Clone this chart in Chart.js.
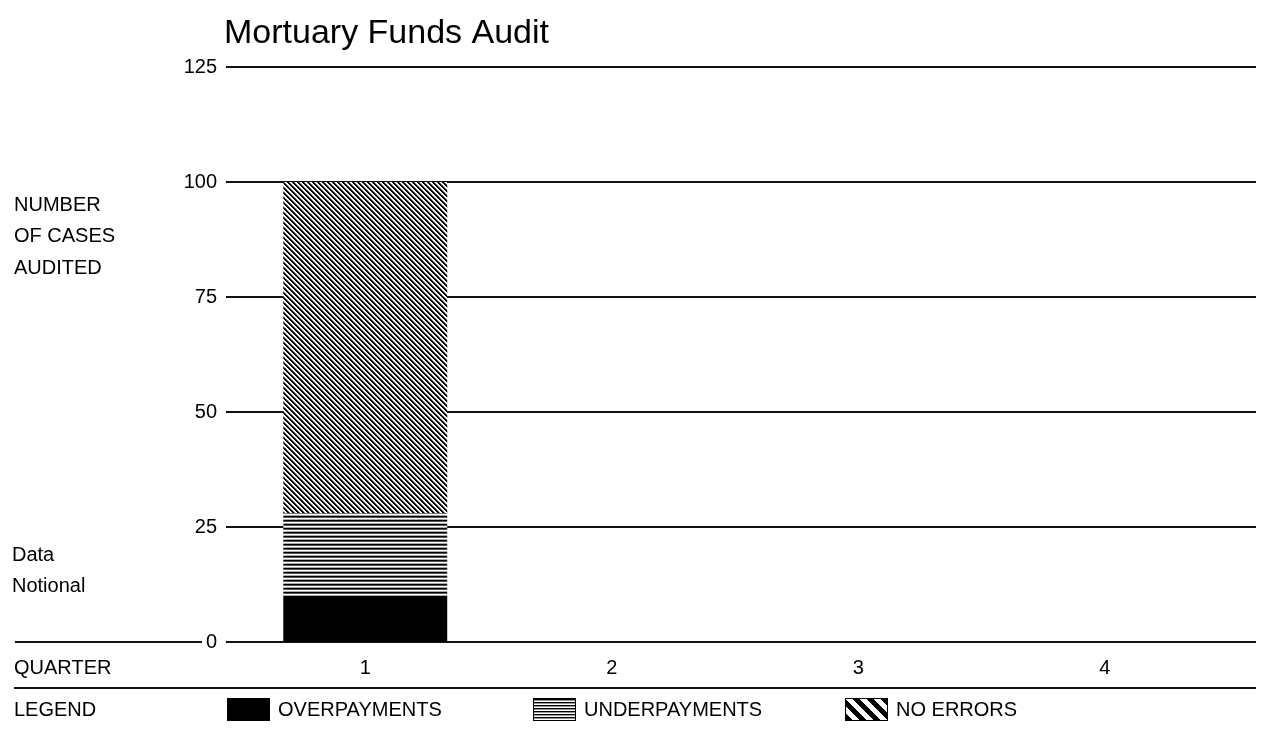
<!DOCTYPE html>
<html>
<head>
<meta charset="utf-8">
<title>Mortuary Funds Audit</title>
<script src="https://cdn.jsdelivr.net/npm/chart.js@4.4.0/dist/chart.umd.min.js"></script>
<style>
  html, body { margin: 0; padding: 0; background: #fff; }
  #chart { display: block; }
</style>
</head>
<body>
<canvas id="chart" width="1263" height="729"></canvas>
<script>
const TITLE = 'Mortuary Funds Audit';
const quarters = ['1', '2', '3', '4'];
const overpayments = [10, 0, 0, 0];
const underpayments = [18, 0, 0, 0];
const noErrors = [72, 0, 0, 0];
const seriesLabels = ['OVERPAYMENTS', 'UNDERPAYMENTS', 'NO ERRORS'];
const yAxisNote = ['NUMBER', 'OF CASES', 'AUDITED'];
const dataNote = ['Data', 'Notional'];

const FONT = '"Liberation Sans", Arial, sans-serif';
const canvas = document.getElementById('chart');
const mainCtx = canvas.getContext('2d');

// little pixel tiles for the hatch fills
const makePattern = (size, paint) => {
  const tile = document.createElement('canvas');
  tile.width = size;
  tile.height = size;
  const g = tile.getContext('2d');
  g.fillStyle = '#fff';
  g.fillRect(0, 0, size, size);
  for (let y = 0; y < size; y++) {
    for (let x = 0; x < size; x++) {
      const col = paint(x, y);
      if (col) {
        g.fillStyle = col;
        g.fillRect(x, y, 1, 1);
      }
    }
  }
  return mainCtx.createPattern(tile, 'repeat');
};

const hLines = makePattern(4, (x, y) => ['#000', '#555', null, '#aaa'][y]);
const diag = makePattern(5, (x, y) => {
  const d = ((x - y) % 5 + 5) % 5;
  return d < 2 ? '#000' : d === 2 ? '#777' : null;
});
const hLinesKey = makePattern(3, (x, y) => ['#000', '#999', null][y]);
const diagKey = makePattern(14, (x, y) => {
  const d = ((x - y) % 14 + 14) % 14;
  return d < 7 ? '#000' : null;
});

const legendKeys = [
  { fill: '#000', border: false },
  { fill: hLinesKey, border: true },
  { fill: diagKey, border: true }
];

const frame = {
  id: 'frame',
  beforeDatasetsDraw(chart) {
    const { ctx, scales: { y } } = chart;
    ctx.save();
    ctx.strokeStyle = '#111';
    ctx.lineWidth = 2;
    y.ticks.forEach(t => {
      const py = Math.round(y.getPixelForValue(t.value));
      ctx.beginPath();
      ctx.moveTo(226, py);
      ctx.lineTo(1256, py);
      ctx.stroke();
      if (t.value === 0) {
        ctx.beginPath();
        ctx.moveTo(15, py);
        ctx.lineTo(202, py);
        ctx.stroke();
      }
    });
    ctx.restore();
  },
  afterDraw(chart) {
    const { ctx } = chart;
    ctx.save();
    ctx.fillStyle = '#000';

    ctx.font = `34px ${FONT}`;
    ctx.textBaseline = 'alphabetic';
    ctx.fillText(TITLE, 224, 43);

    ctx.font = `20px ${FONT}`;
    ctx.textBaseline = 'middle';
    yAxisNote.forEach((t, i) => ctx.fillText(t, 14, 205 + i * 31.5));
    dataNote.forEach((t, i) => ctx.fillText(t, 12, 555 + i * 31));
    ctx.fillText('QUARTER', 14, 668);
    ctx.fillText('LEGEND', 14, 710);

    ctx.strokeStyle = '#111';
    ctx.lineWidth = 2;
    ctx.beginPath();
    ctx.moveTo(14, 688);
    ctx.lineTo(1256, 688);
    ctx.stroke();

    const keyX = [227, 533, 845];
    chart.data.datasets.forEach((ds, i) => {
      const key = legendKeys[i];
      ctx.fillStyle = key.fill;
      ctx.fillRect(keyX[i], 698, 43, 23);
      if (key.border) {
        ctx.strokeStyle = '#000';
        ctx.lineWidth = 1;
        ctx.strokeRect(keyX[i] + 0.5, 698.5, 42, 22);
      }
      ctx.fillStyle = '#000';
      ctx.fillText(ds.label, keyX[i] + 51, 710);
    });
    ctx.restore();
  }
};

new Chart(canvas, {
  type: 'bar',
  data: {
    labels: quarters,
    datasets: [
      { label: seriesLabels[0], data: overpayments, backgroundColor: '#000' },
      { label: seriesLabels[1], data: underpayments, backgroundColor: hLines },
      { label: seriesLabels[2], data: noErrors, backgroundColor: diag }
    ]
  },
  options: {
    responsive: false,
    animation: false,
    events: [],
    layout: { padding: { top: 67, right: 35, bottom: 0, left: 0 } },
    datasets: {
      bar: { categoryPercentage: 1, barPercentage: 0.665, borderWidth: 0 }
    },
    plugins: {
      legend: { display: false },
      title: { display: false },
      tooltip: { enabled: false }
    },
    scales: {
      x: {
        stacked: true,
        grid: { display: false, drawTicks: false },
        border: { display: false },
        ticks: { color: '#000', font: { family: FONT, size: 20 }, padding: 14 },
        afterFit: s => { s.height = 87; }
      },
      y: {
        stacked: true,
        min: 0,
        max: 125,
        grid: { display: false, drawTicks: false },
        border: { display: false },
        ticks: { stepSize: 25, color: '#000', font: { family: FONT, size: 20 }, padding: 25 },
        afterFit: s => { s.width = 242; }
      }
    }
  },
  plugins: [frame]
});
</script>
</body>
</html>
